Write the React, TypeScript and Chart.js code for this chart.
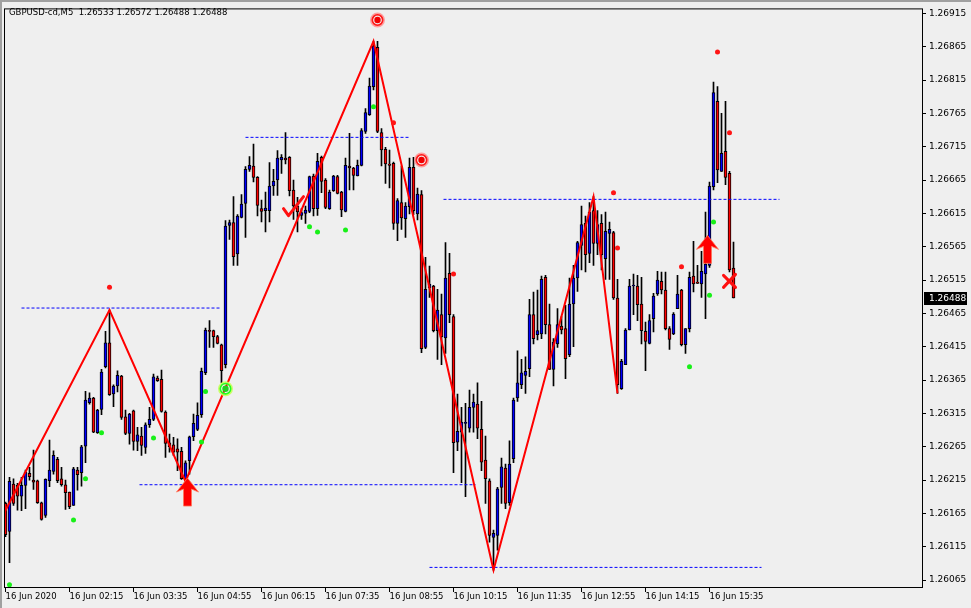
import React, { useEffect, useRef } from "react";
import { Chart, registerables } from "chart.js";

Chart.register(...registerables);

const symbolName = "GBPUSD-cd,M5";

const opens = [
  1.26180, 1.26138, 1.26209, 1.26207, 1.26191, 1.26207, 1.26225, 1.26215, 1.26214, 1.26181,
  1.26162, 1.26214, 1.26228, 1.26246, 1.26217, 1.26208, 1.26197, 1.26177, 1.26230, 1.26226,
  1.26266, 1.26331, 1.26338, 1.26286, 1.26321, 1.26385, 1.26421, 1.26344, 1.26356, 1.26371,
  1.26310, 1.26285, 1.26319, 1.26273, 1.26281, 1.26264, 1.26298, 1.26306, 1.26368, 1.26366,
  1.26317, 1.26271, 1.26268, 1.26262, 1.26258, 1.26217, 1.26244, 1.26280, 1.26291, 1.26313,
  1.26376, 1.26439, 1.26439, 1.26430, 1.26418, 1.26388, 1.26597, 1.26601, 1.26554, 1.26609,
  1.26630, 1.26681, 1.26686, 1.26669, 1.26622, 1.26619, 1.26619, 1.26656, 1.26665, 1.26695,
  1.26698, 1.26699, 1.26650, 1.26626, 1.26612, 1.26615, 1.26618, 1.26671, 1.26622, 1.26699,
  1.26665, 1.26622, 1.26649, 1.26670, 1.26647, 1.26618, 1.26686, 1.26683, 1.26671, 1.26687,
  1.26738, 1.26763, 1.26805, 1.26864, 1.26736, 1.26711, 1.26689, 1.26690, 1.26600, 1.26631,
  1.26607, 1.26625, 1.26684, 1.26614, 1.26643, 1.26414, 1.26503, 1.26506, 1.26439, 1.26463,
  1.26428, 1.26525, 1.26460, 1.26272, 1.26287, 1.26300, 1.26293, 1.26324, 1.26329, 1.26291,
  1.26245, 1.26214, 1.26129, 1.26132, 1.26204, 1.26233, 1.26181, 1.26247, 1.26338, 1.26358,
  1.26372, 1.26382, 1.26463, 1.26433, 1.26434, 1.26519, 1.26448, 1.26381, 1.26419, 1.26446,
  1.26442, 1.26403, 1.26479, 1.26518, 1.26567, 1.26600, 1.26555, 1.26619, 1.26570, 1.26600,
  1.26547, 1.26585, 1.26586, 1.26488, 1.26352, 1.26388, 1.26440, 1.26506, 1.26506, 1.26479,
  1.26438, 1.26420, 1.26457, 1.26494, 1.26513, 1.26500, 1.26442, 1.26434, 1.26472, 1.26500,
  1.26418, 1.26442, 1.26521, 1.26512, 1.26509, 1.26524, 1.26537, 1.26655, 1.26783, 1.26678,
  1.26708, 1.26675, 1.26533,
];

const highs = [
  1.26182, 1.26219, 1.26217, 1.26210, 1.26219, 1.26230, 1.26234, 1.26260, 1.26215, 1.26182,
  1.26217, 1.26275, 1.26259, 1.26249, 1.26234, 1.26215, 1.26197, 1.26234, 1.26234, 1.26267,
  1.26348, 1.26346, 1.26339, 1.26321, 1.26381, 1.26438, 1.26470, 1.26358, 1.26379, 1.26372,
  1.26320, 1.26315, 1.26320, 1.26294, 1.26294, 1.26301, 1.26324, 1.26374, 1.26371, 1.26380,
  1.26319, 1.26284, 1.26279, 1.26277, 1.26264, 1.26244, 1.26281, 1.26314, 1.26331, 1.26383,
  1.26443, 1.26454, 1.26440, 1.26432, 1.26419, 1.26604, 1.26605, 1.26640, 1.26613, 1.26643,
  1.26685, 1.26700, 1.26719, 1.26670, 1.26635, 1.26647, 1.26691, 1.26681, 1.26709, 1.26703,
  1.26736, 1.26700, 1.26665, 1.26639, 1.26622, 1.26626, 1.26671, 1.26674, 1.26705, 1.26701,
  1.26667, 1.26650, 1.26672, 1.26672, 1.26648, 1.26698, 1.26735, 1.26684, 1.26695, 1.26742,
  1.26772, 1.26818, 1.26873, 1.26873, 1.26742, 1.26714, 1.26710, 1.26692, 1.26637, 1.26686,
  1.26631, 1.26698, 1.26699, 1.26653, 1.26649, 1.26549, 1.26536, 1.26507, 1.26501, 1.26494,
  1.26571, 1.26555, 1.26463, 1.26344, 1.26324, 1.26330, 1.26350, 1.26344, 1.26361, 1.26333,
  1.26281, 1.26217, 1.26140, 1.26204, 1.26248, 1.26239, 1.26274, 1.26338, 1.26409, 1.26396,
  1.26400, 1.26486, 1.26497, 1.26500, 1.26521, 1.26522, 1.26479, 1.26427, 1.26472, 1.26460,
  1.26477, 1.26518, 1.26537, 1.26573, 1.26626, 1.26611, 1.26631, 1.26640, 1.26619, 1.26613,
  1.26617, 1.26602, 1.26588, 1.26516, 1.26396, 1.26442, 1.26516, 1.26524, 1.26522, 1.26519,
  1.26452, 1.26463, 1.26495, 1.26528, 1.26527, 1.26527, 1.26445, 1.26466, 1.26522, 1.26501,
  1.26442, 1.26527, 1.26573, 1.26537, 1.26558, 1.26617, 1.26662, 1.26812, 1.26805, 1.26765,
  1.26783, 1.26678, 1.26572,
];

const lows = [
  1.26130, 1.26091, 1.26177, 1.26170, 1.26169, 1.26172, 1.26215, 1.26201, 1.26180, 1.26155,
  1.26159, 1.26205, 1.26224, 1.26211, 1.26206, 1.26171, 1.26172, 1.26177, 1.26200, 1.26206,
  1.26241, 1.26329, 1.26286, 1.26285, 1.26313, 1.26383, 1.26342, 1.26325, 1.26347, 1.26306,
  1.26283, 1.26269, 1.26260, 1.26259, 1.26252, 1.26255, 1.26294, 1.26304, 1.26363, 1.26317,
  1.26249, 1.26257, 1.26252, 1.26229, 1.26216, 1.26213, 1.26224, 1.26274, 1.26289, 1.26309,
  1.26373, 1.26414, 1.26414, 1.26419, 1.26361, 1.26383, 1.26576, 1.26537, 1.26537, 1.26608,
  1.26579, 1.26678, 1.26662, 1.26611, 1.26602, 1.26587, 1.26602, 1.26642, 1.26642, 1.26675,
  1.26689, 1.26641, 1.26606, 1.26587, 1.26606, 1.26600, 1.26616, 1.26611, 1.26612, 1.26646,
  1.26622, 1.26621, 1.26648, 1.26644, 1.26610, 1.26617, 1.26650, 1.26650, 1.26671, 1.26686,
  1.26735, 1.26762, 1.26800, 1.26736, 1.26686, 1.26660, 1.26653, 1.26591, 1.26574, 1.26591,
  1.26579, 1.26614, 1.26613, 1.26605, 1.26406, 1.26412, 1.26489, 1.26437, 1.26396, 1.26388,
  1.26405, 1.26451, 1.26226, 1.26259, 1.26211, 1.26190, 1.26287, 1.26287, 1.26277, 1.26229,
  1.26180, 1.26122, 1.26080, 1.26110, 1.26180, 1.26172, 1.26177, 1.26241, 1.26333, 1.26352,
  1.26345, 1.26370, 1.26419, 1.26425, 1.26427, 1.26434, 1.26381, 1.26356, 1.26414, 1.26434,
  1.26367, 1.26400, 1.26415, 1.26498, 1.26530, 1.26527, 1.26541, 1.26537, 1.26553, 1.26530,
  1.26516, 1.26516, 1.26486, 1.26345, 1.26351, 1.26388, 1.26440, 1.26463, 1.26454, 1.26419,
  1.26379, 1.26419, 1.26437, 1.26492, 1.26494, 1.26440, 1.26411, 1.26433, 1.26472, 1.26416,
  1.26405, 1.26437, 1.26497, 1.26510, 1.26489, 1.26457, 1.26534, 1.26650, 1.26661, 1.26678,
  1.26658, 1.26527, 1.26488,
];

const closes = [
  1.26133, 1.26213, 1.26180, 1.26191, 1.26207, 1.26227, 1.26220, 1.26212, 1.26181, 1.26156,
  1.26216, 1.26230, 1.26252, 1.26214, 1.26208, 1.26196, 1.26175, 1.26232, 1.26223, 1.26265,
  1.26335, 1.26338, 1.26287, 1.26320, 1.26377, 1.26421, 1.26343, 1.26356, 1.26372, 1.26309,
  1.26285, 1.26314, 1.26273, 1.26283, 1.26267, 1.26298, 1.26306, 1.26370, 1.26364, 1.26318,
  1.26270, 1.26265, 1.26257, 1.26257, 1.26217, 1.26241, 1.26280, 1.26300, 1.26312, 1.26378,
  1.26440, 1.26438, 1.26430, 1.26420, 1.26379, 1.26596, 1.26601, 1.26550, 1.26611, 1.26629,
  1.26681, 1.26687, 1.26669, 1.26627, 1.26618, 1.26623, 1.26656, 1.26663, 1.26698, 1.26699,
  1.26695, 1.26649, 1.26626, 1.26617, 1.26616, 1.26620, 1.26670, 1.26622, 1.26693, 1.26663,
  1.26624, 1.26647, 1.26671, 1.26645, 1.26620, 1.26687, 1.26683, 1.26672, 1.26687, 1.26739,
  1.26766, 1.26806, 1.26866, 1.26738, 1.26710, 1.26689, 1.26687, 1.26600, 1.26634, 1.26608,
  1.26626, 1.26684, 1.26619, 1.26644, 1.26412, 1.26501, 1.26509, 1.26439, 1.26470, 1.26430,
  1.26518, 1.26463, 1.26271, 1.26288, 1.26302, 1.26301, 1.26324, 1.26332, 1.26293, 1.26242,
  1.26217, 1.26132, 1.26135, 1.26202, 1.26235, 1.26180, 1.26239, 1.26335, 1.26361, 1.26376,
  1.26378, 1.26463, 1.26427, 1.26439, 1.26516, 1.26448, 1.26381, 1.26422, 1.26448, 1.26440,
  1.26397, 1.26479, 1.26518, 1.26571, 1.26598, 1.26553, 1.26617, 1.26570, 1.26598, 1.26553,
  1.26588, 1.26591, 1.26488, 1.26358, 1.26393, 1.26440, 1.26506, 1.26507, 1.26478, 1.26439,
  1.26423, 1.26454, 1.26491, 1.26515, 1.26500, 1.26442, 1.26426, 1.26464, 1.26494, 1.26418,
  1.26442, 1.26519, 1.26509, 1.26510, 1.26528, 1.26539, 1.26656, 1.26796, 1.26680, 1.26705,
  1.26669, 1.26530, 1.26488,
];

const xTickBars = [0, 16, 32, 48, 64, 80, 96, 112, 128, 144, 160, 176];
const xTickLabels = [
  "16 Jun 2020", "16 Jun 02:15", "16 Jun 03:35", "16 Jun 04:55", "16 Jun 06:15", "16 Jun 07:35",
  "16 Jun 08:55", "16 Jun 10:15", "16 Jun 11:35", "16 Jun 12:55", "16 Jun 14:15", "16 Jun 15:35",
];
const yTickValues = [
  1.26065, 1.26115, 1.26165, 1.26215, 1.26265, 1.26315, 1.26365, 1.26415, 1.26465,
  1.26515, 1.26565, 1.26615, 1.26665, 1.26715, 1.26765, 1.26815, 1.26865, 1.26915,
];

const zigzagBars = [-1, 26, 45, 92, 122, 147, 153];
const zigzagPrices = [1.26158, 1.2647, 1.26213, 1.26873, 1.2608, 1.2664, 1.26345];

const levelFrom = [4, 33.5, 60, 109.5, 106];
const levelTo = [54, 117.5, 100.75, 193.5, 189];
const levelPrices = [1.26473, 1.26208, 1.26729, 1.26636, 1.26084];

const redDotBars = [26, 97, 112, 152, 153, 169, 178, 181];
const redDotPrices = [1.26504, 1.26751, 1.26524, 1.26646, 1.26563, 1.26535, 1.26857, 1.26736];
const greenDotBars = [1, 17, 20, 24, 37, 49, 50, 76, 78, 85, 92, 171, 176, 177];
const greenDotPrices = [
  1.26058, 1.26155, 1.26217, 1.26286, 1.26278, 1.26272, 1.26348, 1.26595, 1.26587, 1.2659,
  1.26775, 1.26385, 1.26492, 1.26602,
];

const arrowBars = [45, 175];
const arrowPrices = [1.26218, 1.26582];
const redTargetBars = [93, 104];
const redTargetPrices = [1.26905, 1.26695];
const greenTargetBars = [55];
const greenTargetPrices = [1.26352];
const checkBars = [71];
const checkPrices = [1.26619];
const crossBars = [181];
const crossPrices = [1.26513];

const FONT = "'DejaVu Sans'";

function drawUpArrow(ctx: CanvasRenderingContext2D, x: number, y: number) {
  ctx.beginPath();
  ctx.moveTo(x, y);
  ctx.lineTo(x + 11, y + 14);
  ctx.lineTo(x + 4, y + 11);
  ctx.lineTo(x + 4, y + 28);
  ctx.lineTo(x - 4, y + 28);
  ctx.lineTo(x - 4, y + 11);
  ctx.lineTo(x - 11, y + 14);
  ctx.closePath();
  ctx.fillStyle = "#ff0000";
  ctx.fill();
  ctx.strokeStyle = "rgba(255,120,90,0.8)";
  ctx.lineWidth = 1;
  ctx.stroke();
}

function drawTarget(ctx: CanvasRenderingContext2D, x: number, y: number, ring: string, halo: string, dot: string) {
  ctx.beginPath();
  ctx.arc(x, y, 6, 0, Math.PI * 2);
  ctx.strokeStyle = halo;
  ctx.lineWidth = 3;
  ctx.stroke();
  ctx.beginPath();
  ctx.arc(x, y, 5.2, 0, Math.PI * 2);
  ctx.strokeStyle = ring;
  ctx.lineWidth = 1.6;
  ctx.stroke();
  ctx.beginPath();
  ctx.arc(x, y, 3.2, 0, Math.PI * 2);
  ctx.fillStyle = dot;
  ctx.fill();
}

function drawCheck(ctx: CanvasRenderingContext2D, x: number, y: number) {
  ctx.save();
  ctx.strokeStyle = "#ff1010";
  ctx.lineCap = "round";
  ctx.lineJoin = "round";
  ctx.lineWidth = 3;
  ctx.beginPath();
  ctx.moveTo(x - 6, y - 2);
  ctx.lineTo(x - 1, y + 5);
  ctx.lineTo(x + 14, y - 14);
  ctx.stroke();
  ctx.restore();
}

function drawCross(ctx: CanvasRenderingContext2D, x: number, y: number) {
  ctx.save();
  ctx.strokeStyle = "#ff1010";
  ctx.lineCap = "round";
  ctx.lineWidth = 3;
  ctx.beginPath();
  ctx.moveTo(x - 6, y - 6);
  ctx.lineTo(x + 6, y + 6);
  ctx.moveTo(x + 6, y - 7);
  ctx.lineTo(x - 6, y + 6);
  ctx.stroke();
  ctx.restore();
}

const overlayPlugin = {
  id: "mt4Overlay",
  beforeDraw(chart: any) {
    const ctx = chart.ctx as CanvasRenderingContext2D;
    ctx.save();
    ctx.fillStyle = "#efefef";
    ctx.fillRect(0, 0, chart.width, chart.height);
    ctx.fillStyle = "#a0a0a0";
    ctx.fillRect(0, 0, chart.width, 2);
    ctx.fillRect(0, 0, 2, chart.height);
    ctx.restore();
  },
  afterDatasetsDraw(chart: any) {
    const ctx = chart.ctx as CanvasRenderingContext2D;
    const a = chart.chartArea;
    const xs = chart.scales.x;
    const ys = chart.scales.y;
    const px = (v: number) => xs.getPixelForValue(v);
    const py = (v: number) => ys.getPixelForValue(v);
    ctx.save();
    ctx.beginPath();
    ctx.rect(a.left, a.top, a.right - a.left, a.bottom - a.top);
    ctx.clip();
    arrowBars.forEach((b, k) => drawUpArrow(ctx, px(b) + 2, py(arrowPrices[k])));
    redTargetBars.forEach((b, k) => drawTarget(ctx, px(b), py(redTargetPrices[k]), "#ff1a1a", "rgba(255,150,150,0.9)", "#f00000"));
    greenTargetBars.forEach((b, k) => drawTarget(ctx, px(b), py(greenTargetPrices[k]), "#22ff22", "rgba(200,255,90,0.9)", "#20d020"));
    checkBars.forEach((b, k) => drawCheck(ctx, px(b), py(checkPrices[k])));
    crossBars.forEach((b, k) => drawCross(ctx, px(b), py(crossPrices[k])));
    ctx.restore();
  },
  afterDraw(chart: any) {
    const ctx = chart.ctx as CanvasRenderingContext2D;
    const a = chart.chartArea;
    const ys = chart.scales.y;
    ctx.save();
    ctx.strokeStyle = "#000";
    ctx.lineWidth = 1;
    ctx.strokeRect(a.left + 0.5, a.top + 0.5, a.right - a.left, a.bottom - a.top);
    const n = closes.length - 1;
    const title = `${symbolName}  ${opens[n].toFixed(5)} ${highs[n].toFixed(5)} ${lows[n].toFixed(5)} ${closes[n].toFixed(5)}`;
    ctx.fillStyle = "#000";
    ctx.font = `8.5px ${FONT}`;
    ctx.textBaseline = "middle";
    ctx.textAlign = "left";
    ctx.fillText(title, 9, 13);
    const yLast = Math.round(ys.getPixelForValue(closes[n]));
    ctx.fillStyle = "#000";
    ctx.fillRect(a.right + 2, yLast - 6, 43, 13);
    ctx.fillStyle = "#fff";
    ctx.font = `9px ${FONT}`;
    ctx.fillText(closes[n].toFixed(5), a.right + 7, yLast + 0.5);
    ctx.restore();
  },
};

export default function App() {
  const ref = useRef<HTMLCanvasElement | null>(null);

  useEffect(() => {
    document.body.style.margin = "0";
    const canvas = ref.current;
    if (!canvas) return;

    const bodies = opens.map((o, i) => ({ x: i, y: [o, closes[i]] }));
    const bodyColors = opens.map((o, i) => (closes[i] >= o ? "#0000ff" : "#ff0000"));
    const wicks = lows.map((l, i) => ({ x: i, y: [l, highs[i]] }));

    const levelSets = levelPrices.map((p, k) => ({
      type: "line",
      data: [
        { x: levelFrom[k], y: p },
        { x: levelTo[k], y: p },
      ],
      borderColor: "#0000ff",
      borderWidth: 1,
      borderDash: [3, 2],
      pointRadius: 0,
      fill: false,
      order: 2,
    }));

    const chart = new Chart(canvas, {
      type: "bar",
      data: {
        datasets: [
          {
            type: "bar",
            data: wicks,
            backgroundColor: "#000",
            borderWidth: 0,
            barThickness: 1,
            grouped: false,
            order: 4,
          },
          {
            type: "bar",
            data: bodies,
            backgroundColor: bodyColors,
            borderColor: "#000",
            borderWidth: 1,
            borderSkipped: false,
            barThickness: 3,
            minBarLength: 1,
            grouped: false,
            order: 3,
          },
          ...levelSets,
          {
            type: "line",
            data: zigzagBars.map((b, k) => ({ x: b, y: zigzagPrices[k] })),
            borderColor: "#ff0000",
            borderWidth: 2,
            pointRadius: 0,
            tension: 0,
            fill: false,
            order: 1,
          },
          {
            type: "scatter",
            data: redDotBars.map((b, k) => ({ x: b, y: redDotPrices[k] })),
            backgroundColor: "#ff1515",
            borderWidth: 0,
            pointRadius: 2.5,
            order: 0,
          },
          {
            type: "scatter",
            data: greenDotBars.map((b, k) => ({ x: b, y: greenDotPrices[k] })),
            backgroundColor: "#18f018",
            borderWidth: 0,
            pointRadius: 2.5,
            order: 0,
          },
        ] as any,
      },
      options: {
        animation: false,
        responsive: false,
        maintainAspectRatio: false,
        devicePixelRatio: 1,
        events: [],
        layout: { padding: { left: 4, top: 4, right: 0, bottom: 0 } },
        plugins: { legend: { display: false }, tooltip: { enabled: false } },
        scales: {
          x: {
            type: "linear",
            offset: false,
            bounds: "data",
            min: -0.375,
            max: 229.125,
            afterBuildTicks: (s: any) => {
              s.ticks = xTickBars.map((v) => ({ value: v }));
            },
            afterFit: (s: any) => {
              s.height = 21;
            },
            ticks: {
              autoSkip: false,
              maxRotation: 0,
              minRotation: 0,
              align: "start",
              padding: 0,
              color: "#000",
              font: { family: "DejaVu Sans", size: 8.5 },
              callback: (_v: any, i: number) => xTickLabels[i],
            },
            grid: { offset: false, drawOnChartArea: false, drawTicks: true, tickLength: 5, color: "#000", lineWidth: 1 },
            border: { display: false },
          },
          y: {
            type: "linear",
            position: "right",
            min: 1.260546,
            max: 1.269224,
            afterBuildTicks: (s: any) => {
              s.ticks = yTickValues.map((v) => ({ value: v }));
            },
            afterFit: (s: any) => {
              s.width = 49;
            },
            ticks: {
              padding: 3,
              color: "#000",
              font: { family: "DejaVu Sans", size: 9 },
              callback: (v: any) => Number(v).toFixed(5),
            },
            grid: { drawOnChartArea: false, drawTicks: true, tickLength: 4, color: "#000", lineWidth: 1 },
            border: { display: false },
          },
        },
      } as any,
      plugins: [overlayPlugin],
    });

    return () => chart.destroy();
  }, []);

  return (
    <div style={{ position: "absolute", left: 0, top: 0, width: 971, height: 608, background: "#efefef" }}>
      <canvas ref={ref} width={971} height={608} style={{ display: "block", width: 971, height: 608 }} />
    </div>
  );
}
